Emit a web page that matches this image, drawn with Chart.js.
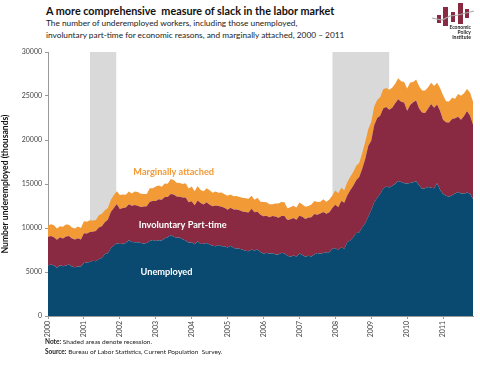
<!DOCTYPE html>
<html>
<head>
<meta charset="utf-8">
<script src="https://cdn.jsdelivr.net/npm/chart.js@4/dist/chart.umd.min.js"></script>
<style>
  body { margin: 0; background: #fff; font-family: Lato, sans-serif; }
  #wrap { position: relative; width: 480px; height: 366px; overflow: hidden; }
  .title { position: absolute; left: 46px; top: 4px; font-size: 10.8px; font-weight: bold; color: #111; }
  .sub { position: absolute; left: 46px; top: 17px; font-size: 8.3px; line-height: 12px; color: #222; }
  .notes { position: absolute; left: 45px; top: 337px; font-size: 6.5px; line-height: 9.5px; color: #222; }
  #chartBox { position: absolute; left: 0; top: 44px; width: 480px; height: 300px; }
  #logo { position: absolute; left: 428px; top: 0; }
</style>
</head>
<body>
<div id="wrap">
  <div class="title">A more comprehensive&nbsp; measure of slack in the labor market</div>
  <div class="sub">The number of underemployed workers, including those unemployed,<br>involuntary part-time for economic reasons, and marginally attached, 2000 &#8211; 2011</div>
  <canvas id="logo" width="50" height="42"></canvas>
  <div id="chartBox"><canvas id="slackChart"></canvas></div>
  <div class="notes"><b>Note:</b> Shaded areas denote recession.<br><b>Source:</b> Bureau of Labor Statistics, Current Population&nbsp; Survey.</div>
</div>
<script>
//// data (thousands, monthly Jan 2000 - Nov 2011)
const years = [2000, 2001, 2002, 2003, 2004, 2005, 2006, 2007, 2008, 2009, 2010, 2011];
const yTicks = [0, 5000, 10000, 15000, 20000, 25000, 30000];

const unemployed = [
  5708, 5858, 5733, 5481, 5758, 5651, 5747, 5853, 5625, 5534, 5639, 5634,
  6023, 6089, 6141, 6271, 6226, 6484, 6583, 7042, 7142, 7694, 8003, 8258,
  8182, 8215, 8304, 8599, 8399, 8393, 8390, 8304, 8251, 8307, 8520, 8640,
  8520, 8618, 8588, 8842, 8957, 9166, 9011, 8896, 8921, 8732, 8576, 8317,
  8370, 8167, 8491, 8170, 8212, 8286, 8136, 7990, 7927, 8061, 7932, 7934,
  7784, 7980, 7737, 7672, 7651, 7524, 7406, 7345, 7553, 7453, 7566, 7279,
  7064, 7184, 7072, 7120, 6980, 7001, 7175, 7091, 6847, 6727, 6872, 6762,
  7116, 6927, 6731, 6850, 6766, 6979, 7149, 7067, 7170, 7237, 7240, 7645,
  7685, 7497, 7822, 7637, 8395, 8575, 8937, 9438, 9494, 10074, 10538, 11286,
  12058, 12898, 13426, 13853, 14499, 14707, 14601, 14814, 15009, 15352, 15219, 15098,
  15046, 15113, 15202, 15325, 14849, 14474, 14512, 14648, 14579, 14516, 15081, 14348,
  13863, 13673, 13542, 13732, 13910, 14085, 13920, 13897, 14024, 13897, 13303
];
const partTime = [
  3270, 3240, 3230, 3170, 3200, 3160, 3280, 3230, 3180, 3150, 3210, 3070,
  3370, 3280, 3400, 3310, 3420, 3580, 3630, 3620, 3790, 4110, 4270, 4470,
  3980, 4050, 4020, 4090, 4120, 4230, 4150, 4070, 4200, 4160, 4470, 4420,
  4560, 4650, 4620, 4680, 4570, 4700, 4790, 4690, 4620, 4720, 4890, 4620,
  4670, 4420, 4630, 4660, 4460, 4630, 4520, 4480, 4630, 4440, 4490, 4380,
  4290, 4310, 4360, 4420, 4380, 4360, 4400, 4430, 4640, 4330, 4280, 4230,
  4260, 4200, 4150, 4240, 4320, 4170, 4180, 4270, 4070, 4270, 4270, 4170,
  4290, 4350, 4300, 4330, 4450, 4610, 4360, 4580, 4650, 4370, 4540, 4640,
  4950, 4870, 5240, 5220, 5300, 5720, 5870, 6000, 6310, 6670, 7300, 8030,
  7850, 8790, 9080, 8900, 9090, 9030, 8830, 8850, 9170, 9270, 9130, 9160,
  8270, 8870, 9090, 9150, 8730, 8660, 8560, 8930, 9510, 9140, 8950, 8970,
  8430, 8340, 8440, 8650, 8550, 8570, 8370, 8830, 9270, 8900, 8470
];
const marginal = [
  1310, 1330, 1360, 1280, 1250, 1320, 1360, 1300, 1240, 1260, 1310, 1290,
  1360, 1350, 1330, 1280, 1270, 1380, 1400, 1350, 1340, 1410, 1480, 1460,
  1590, 1530, 1450, 1450, 1390, 1530, 1540, 1510, 1420, 1410, 1530, 1450,
  1630, 1560, 1470, 1540, 1500, 1700, 1650, 1560, 1560, 1540, 1610, 1540,
  1670, 1600, 1650, 1500, 1500, 1600, 1640, 1540, 1580, 1500, 1600, 1530,
  1600, 1530, 1520, 1550, 1480, 1550, 1580, 1550, 1470, 1420, 1580, 1480,
  1630, 1550, 1480, 1350, 1480, 1620, 1610, 1560, 1340, 1370, 1390, 1400,
  1500, 1380, 1390, 1320, 1460, 1480, 1450, 1340, 1440, 1370, 1460, 1400,
  1630, 1580, 1510, 1430, 1510, 1520, 1570, 1650, 1600, 1780, 1950, 1900,
  2130, 2140, 2050, 2100, 2190, 2180, 2280, 2280, 2200, 2390, 2320, 2330,
  2540, 2540, 2300, 2400, 2540, 2490, 2560, 2420, 2420, 2480, 2470, 2580,
  2800, 2390, 2400, 2430, 2240, 2560, 2750, 2580, 2510, 2590, 2600
];
// recessions as [start, end] in fractional years
const recessions = [[2001.17, 2001.9], [2007.92, 2009.5]];
const seriesNames = ["Unemployed", "Involuntary Part-time", "Marginally attached"];

// month positions on the year axis
const months = unemployed.map((v, i) => years[0] + i / 12);
const toPoints = (arr) => arr.map((v, i) => ({ x: months[i], y: v }));

const colors = { unemp: "#0b4a70", part: "#892a42", marg: "#f29a36", band: "#d9d9d9" };

//// plugins
const recessionBands = {
  id: "recessionBands",
  beforeDatasetsDraw(chart) {
    const { ctx, chartArea, scales } = chart;
    ctx.save();
    ctx.fillStyle = colors.band;
    recessions.forEach(([a, b]) => {
      const x1 = scales.x.getPixelForValue(a);
      const x2 = scales.x.getPixelForValue(b);
      ctx.fillRect(x1, chartArea.top, x2 - x1, chartArea.bottom - chartArea.top);
    });
    ctx.restore();
  }
};

// area labels, placed by data coordinates
const areaLabels = [
  { text: seriesNames[2], x: 2003.5, y: 16400, color: colors.marg },
  { text: seriesNames[1], x: 2003.75, y: 10300, color: "#ffffff" },
  { text: seriesNames[0], x: 2003.3, y: 5000, color: "#ffffff" }
];
const labelPlugin = {
  id: "labelPlugin",
  afterDatasetsDraw(chart) {
    const { ctx, scales } = chart;
    ctx.save();
    ctx.font = "bold 9.2px Lato";
    ctx.textAlign = "center";
    ctx.textBaseline = "middle";
    areaLabels.forEach(l => {
      ctx.fillStyle = l.color;
      ctx.fillText(l.text, scales.x.getPixelForValue(l.x), scales.y.getPixelForValue(l.y));
    });
    ctx.restore();
  }
};

//// chart
const ctx = document.getElementById("slackChart").getContext("2d");
new Chart(ctx, {
  type: "line",
  data: {
    datasets: [
      { label: seriesNames[0], data: toPoints(unemployed), backgroundColor: colors.unemp, fill: "origin" },
      { label: seriesNames[1], data: toPoints(partTime), backgroundColor: colors.part, fill: "-1" },
      { label: seriesNames[2], data: toPoints(marginal), backgroundColor: colors.marg, fill: "-1" }
    ]
  },
  options: {
    responsive: true,
    maintainAspectRatio: false,
    animation: false,
    elements: {
      point: { radius: 0 },
      line: { borderWidth: 0, tension: 0 }
    },
    layout: { padding: { top: 8, right: 7, left: 0, bottom: 0 } },
    plugins: { legend: { display: false }, tooltip: { enabled: false } },
    scales: {
      x: {
        type: "linear",
        min: months[0],
        max: months[months.length - 1],
        afterBuildTicks: (scale) => { scale.ticks = years.map(v => ({ value: v })); },
        afterFit: (scale) => { scale.height = 28; },
        grid: { drawOnChartArea: false, color: "#999", tickLength: 3 },
        border: { color: "#999" },
        ticks: {
          autoSkip: false,
          maxRotation: 90,
          minRotation: 90,
          padding: 2,
          color: "#444",
          font: { size: 7, family: "Lato" },
          callback: (v) => String(v)
        }
      },
      y: {
        stacked: true,
        min: 0,
        max: 30000,
        afterBuildTicks: (scale) => { scale.ticks = yTicks.map(v => ({ value: v })); },
        afterFit: (scale) => { scale.width = 48; },
        grid: { drawOnChartArea: false, color: "#999", tickLength: 3 },
        border: { color: "#999" },
        title: {
          display: true,
          text: "Number underemployed (thousands)",
          color: "#111",
          font: { size: 8.6, weight: "bold", family: "Lato" },
          padding: { top: 0, bottom: 2 }
        },
        ticks: {
          padding: 3,
          color: "#444",
          font: { size: 7, family: "Lato" },
          callback: (v) => String(v)
        }
      }
    }
  },
  plugins: [recessionBands, labelPlugin]
});

//// logo
function drawLogo() {
  const c = document.getElementById("logo").getContext("2d");
  c.fillStyle = "#892a42";
  [[9, 15, 4, 8], [15, 7, 5, 19], [23, 12, 4, 10], [30, 3, 5, 21], [37, 9, 4, 9]].forEach(r => c.fillRect(r[0], r[1], r[2], r[3]));
  c.strokeStyle = "#aaa";
  c.lineWidth = 1.2;
  c.beginPath();
  c.moveTo(4, 18); c.lineTo(14, 20); c.lineTo(22, 16); c.lineTo(30, 15); c.lineTo(38, 13); c.lineTo(46, 11);
  c.stroke();
  c.fillStyle = "#222";
  c.font = "bold 5px Lato";
  c.textAlign = "right";
  c.fillText("Economic", 43, 29);
  c.fillText("Policy", 43, 34);
  c.fillText("Institute", 43, 39);
}
drawLogo();
</script>
</body>
</html>
